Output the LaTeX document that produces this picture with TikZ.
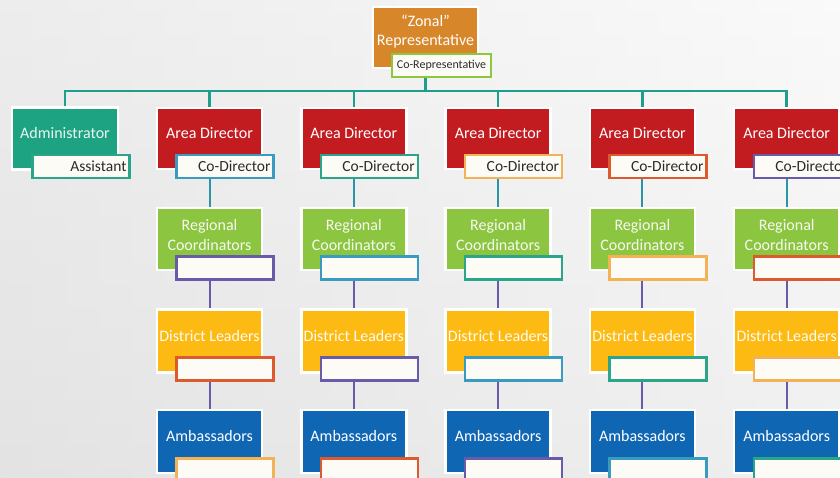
\documentclass[tikz,border=0pt]{standalone}
\usepackage{fontspec}
\setmainfont{Carlito}
\definecolor{bgtop}{HTML}{F5F5F5}
\definecolor{bgbot}{HTML}{E0E0E0}
\definecolor{zorange}{HTML}{D8862A}
\definecolor{admteal}{HTML}{1DA381}
\definecolor{adred}{HTML}{C21B20}
\definecolor{rcgreen}{HTML}{8CC540}
\definecolor{dlyellow}{HTML}{FDBA12}
\definecolor{amblue}{HTML}{0F66B3}
\definecolor{busc}{HTML}{1F9E89}
\definecolor{purp}{HTML}{6A5AAA}
\definecolor{tblue}{HTML}{2A95A8}
\definecolor{cBlue}{HTML}{3A9BC0}
\definecolor{cTeal}{HTML}{2AA58A}
\definecolor{cYel}{HTML}{F2B255}
\definecolor{cRed}{HTML}{DD5A2E}
\definecolor{cPur}{HTML}{6A5AAA}
\definecolor{cGreen}{HTML}{8DC63F}
\definecolor{subfill}{HTML}{FDFBF6}
\definecolor{txtdark}{HTML}{2B2B2B}
\begin{document}
\begin{tikzpicture}[x=1pt,y=-1pt,
  mainbox/.style={minimum width=105pt,minimum height=62pt,inner sep=0pt,draw=white,line width=2.5pt},
  subbox/.style={minimum height=23pt,text width=91pt,inner xsep=3pt,inner ysep=0pt,align=right,fill=subfill,line width=2.2pt,text=txtdark,font=\fontsize{15.5}{17}\selectfont},
  lbl/.style={text=white,font=\fontsize{16}{19.5}\selectfont,align=center},
  bus/.style={draw=busc,line width=2.5pt},
  plink/.style={draw=purp,line width=2pt},
  tlink/.style={draw=tblue,line width=2pt}]
\useasboundingbox (0,0) rectangle (840,478);
\clip (0,0) rectangle (840,478);
\shade[top color=bgtop,bottom color=bgbot] (0,0) rectangle (840,478);
\shade[left color=black!10,right color=white,opacity=0.5] (0,0) rectangle (840,478);

% top
\node[mainbox,fill=zorange,minimum width=105pt,minimum height=61pt,
  label={[lbl,yshift=6pt]center:“Zonal”\\Representative}] (zonal) at (425.5,37.5) {};
\node[subbox,draw=cGreen,text width=93pt,align=center,font=\fontsize{12}{14}\selectfont] (corep) at (441.5,65.5) {Co-Representative};

% administrator
\node[mainbox,fill=admteal,minimum width=106pt,
  label={[lbl,yshift=5pt,text=white!90!admteal]center:Administrator}] (admin) at (65,138.5) {};
\node[subbox,draw=cTeal] (assist) at (81,166.5) {Assistant};

\coordinate (bus) at (0,91);

\foreach \i/\ca/\cb/\cc/\cd in {1/cBlue/cPur/cRed/cYel,2/cTeal/cBlue/cPur/cRed,3/cYel/cTeal/cBlue/cPur,4/cRed/cYel/cTeal/cBlue,5/cPur/cRed/cYel/cTeal}{
  \pgfmathsetmacro\cx{209.5+144.3*(\i-1)}
  \node[mainbox,fill=adred,minimum height=61pt,
    label={[lbl,yshift=5pt]center:Area Director}] (ad\i) at (\cx,138.5) {};
  \node[subbox,draw=\ca] (cd\i) at (\cx+15.5,166.5) {Co-Director};
  \node[mainbox,fill=rcgreen,
    label={[lbl,yshift=4pt,text=white!92!rcgreen]center:Regional\\Coordinators}] (rc\i) at (\cx,239) {};
  \node[subbox,draw=\cb] (rcs\i) at (\cx+15.5,268) {};
  \node[mainbox,fill=dlyellow,minimum height=63pt,
    label={[lbl,yshift=5pt,text=white!94!dlyellow]center:District Leaders}] (dl\i) at (\cx,341) {};
  \node[subbox,draw=\cc] (dls\i) at (\cx+15.5,369) {};
  \node[mainbox,fill=amblue,minimum height=63pt,
    label={[lbl,yshift=5pt]center:Ambassadors}] (am\i) at (\cx,441.5) {};
  \node[subbox,draw=\cd] (ams\i) at (\cx+15.5,470) {};
  \draw[tlink] (cd\i.south -| ad\i.south) -- (rc\i.north);
  \draw[plink] (rcs\i.south -| rc\i.south) -- (dl\i.north);
  \draw[plink] (dls\i.south -| dl\i.south) -- (am\i.north);
}

% bus
\draw[bus] (zonal.south |- corep.south) -- (zonal.south |- bus);
\draw[bus] (admin.north) -- (admin.north |- bus) -- (ad5.north |- bus) -- (ad5.north);
\foreach \i in {1,2,3,4}{
  \draw[bus] (ad\i.north |- bus) -- (ad\i.north);
}
\end{tikzpicture}
\end{document}
